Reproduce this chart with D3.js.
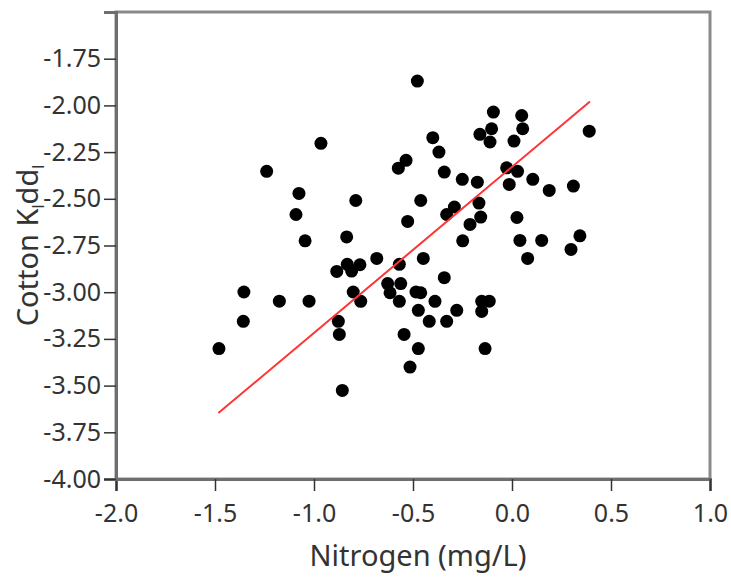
<!DOCTYPE html>
<html>
<head>
<meta charset="utf-8">
<script src="https://cdn.jsdelivr.net/npm/d3@7"></script>
<style>
  body { margin: 0; background: #fff; }
  svg text { font-family: "Noto Sans", "Open Sans", sans-serif; fill: #333; }
</style>
</head>
<body>
<svg width="731" height="579"></svg>
<script>
// Nitrogen (mg/L) for each site
const nitrogen = [
  -1.239, -0.965, -1.076, -1.091, -1.045, -0.478, -0.094, 0.049, -0.103, 0.054,
  -0.162, -0.111, 0.010, -0.400, -0.369, -0.535, -0.574, -0.342, -0.251, -0.175,
  -0.027, 0.028, -0.014, -0.789, -0.461, -0.167, -0.291, -0.330, -0.158, -0.212,
  0.025, -0.527, -0.835, -0.249, 0.040, -0.683, -0.448, 0.390, 0.105, 0.188,
  0.310, 0.150, 0.343, 0.298, 0.079, -1.354, -1.175, -1.025, -1.357, -1.480,
  -0.885, -0.832, -0.810, -0.768, -0.569, -0.342, -0.802, -0.764, -0.628, -0.616,
  -0.562, -0.569, -0.485, -0.461, -0.389, -0.473, -0.418, -0.330, -0.279, -0.153,
  -0.115, -0.153, -0.877, -0.872, -0.545, -0.473, -0.136, -0.515, -0.857
];
// Cotton K_l dd_l, same order
const cottonK = [
  -2.353, -2.203, -2.471, -2.584, -2.725, -1.870, -2.036, -2.054, -2.125, -2.125,
  -2.155, -2.196, -2.191, -2.173, -2.250, -2.294, -2.336, -2.357, -2.396, -2.411,
  -2.334, -2.353, -2.423, -2.509, -2.509, -2.523, -2.544, -2.584, -2.598, -2.637,
  -2.600, -2.621, -2.704, -2.725, -2.723, -2.819, -2.819, -2.138, -2.396, -2.455,
  -2.432, -2.723, -2.698, -2.771, -2.819, -2.999, -3.048, -3.048, -3.156, -3.302,
  -2.889, -2.851, -2.887, -2.853, -2.851, -2.922, -2.999, -3.049, -2.954, -3.003,
  -2.954, -3.049, -2.999, -3.003, -3.049, -3.097, -3.156, -3.156, -3.097, -3.049,
  -3.048, -3.103, -3.156, -3.226, -3.226, -3.302, -3.302, -3.401, -3.526
];
// fitted line endpoints
const fitX = [-1.483, 0.394];
const fitY = [-3.647, -1.979];

const xTicks = [-2.0, -1.5, -1.0, -0.5, 0.0, 0.5, 1.0];
const yTicks = [-4.0, -3.75, -3.5, -3.25, -3.0, -2.75, -2.5, -2.25, -2.0, -1.75];

const svg = d3.select("svg");
const plotL = 116, plotR = 710, plotT = 12, plotB = 479;

const x = d3.scaleLinear().domain([-2, 1]).range([plotL, plotR]);
const y = d3.scaleLinear().domain([-4, -1.5]).range([plotB, plotT]);

// frame
svg.append("rect")
  .attr("x", plotL).attr("y", plotT)
  .attr("width", plotR - plotL).attr("height", plotB - plotT)
  .attr("fill", "none").attr("stroke", "#8a8a8a").attr("stroke-width", 3);

const xAxis = svg.append("g")
  .attr("transform", `translate(0,${plotB})`)
  .call(d3.axisBottom(x).tickValues(xTicks).tickFormat(d => d3.format(".1f")(d).replace("−", "-")).tickSize(12).tickPadding(13));
const yAxis = svg.append("g")
  .attr("transform", `translate(${plotL},0)`)
  .call(d3.axisLeft(y).tickValues(yTicks).tickFormat(d => d3.format(".2f")(d).replace("−", "-")).tickSize(12).tickPadding(3));

[xAxis, yAxis].forEach(a => {
  a.select(".domain").attr("stroke", "#6e6e6e").attr("stroke-width", 3);
  a.selectAll(".tick line").attr("stroke", "#333").attr("stroke-width", 1.5);
  a.selectAll(".tick text").attr("font-size", 25).attr("fill", "#333")
    .attr("font-family", "'Noto Sans', sans-serif");
});

// points
const pts = nitrogen.map((v, i) => ({ n: v, k: cottonK[i] }));
svg.append("g").selectAll("circle")
  .data(pts)
  .join("circle")
  .attr("cx", d => x(d.n))
  .attr("cy", d => y(d.k))
  .attr("r", 6.5)
  .attr("fill", "#000");

// fit line
svg.append("line")
  .attr("x1", x(fitX[0])).attr("y1", y(fitY[0]))
  .attr("x2", x(fitX[1])).attr("y2", y(fitY[1]))
  .attr("stroke", "#ff3333").attr("stroke-width", 2);

// axis titles
svg.append("text")
  .attr("x", 418).attr("y", 566)
  .attr("text-anchor", "middle").attr("font-size", 29)
  .text("Nitrogen (mg/L)");

const yt = svg.append("text")
  .attr("transform", `translate(38,${(plotT + plotB) / 2}) rotate(-90)`)
  .attr("text-anchor", "middle").attr("font-size", 29);
yt.append("tspan").text("Cotton K");
yt.append("tspan").attr("font-size", 16).attr("dy", 6).text("l");
yt.append("tspan").attr("dy", -6).text("dd");
yt.append("tspan").attr("font-size", 16).attr("dy", 6).text("l");
</script>
</body>
</html>
